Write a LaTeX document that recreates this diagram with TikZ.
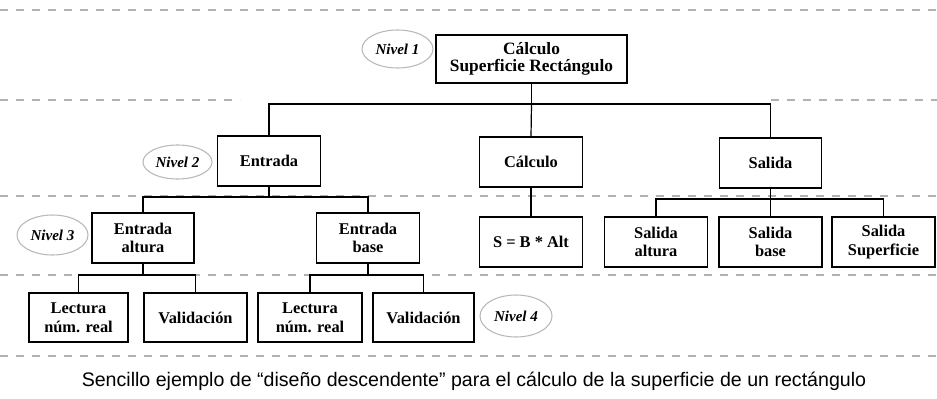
\documentclass[tikz,border=0pt]{standalone}
\usepackage{fontspec}
\setmainfont{Liberation Serif}
\newfontfamily\capfont{Liberation Sans}
\usetikzlibrary{shapes.geometric}
\begin{document}
\begin{tikzpicture}[x=0.75pt,y=-0.75pt,
  bx/.style 2 args={draw, line width=0.9pt, align=center, inner sep=0pt,
    minimum width={#1*0.75pt}, minimum height={#2*0.75pt},
    font=\bfseries\fontsize{12.3}{14}\selectfont},
  lvl/.style 2 args={draw=gray!55, ellipse, line width=0.8pt, inner sep=0pt,
    minimum width={#1*0.75pt}, minimum height={#2*0.75pt},
    font=\bfseries\itshape\fontsize{11.3}{12}\selectfont},
  sep/.style={draw=gray!60, line width=0.8pt, dash pattern=on 6pt off 6pt},
  conn/.style={draw=black, line width=0.9pt}]
\useasboundingbox (0,0) rectangle (937,399);
\fill[white] (0,0) rectangle (937,399);
% level separators
\draw[sep] (0,10) -- (937,10);
\draw[sep] (0,100) -- (240,100);
\draw[sep] (771,100) -- (937,100);
\draw[sep] (0,196) -- (937,196);
\draw[sep] (0,275) -- (937,275);
\draw[sep] (0,356) -- (937,356);
% level 1
\node[bx={191}{48}, font=\bfseries\fontsize{13}{13}\selectfont] (T) at (531.5,59) {Cálculo\\Superficie Rectángulo};
\node[lvl={71}{38}] (N1) at (397.5,49) {Nivel 1};
% level 2
\node[bx={103}{50}] (E) at (269,161) {Entrada};
\node[bx={103}{50}] (C) at (531,162) {Cálculo};
\node[bx={102}{50}] (Sa) at (770.5,163) {Salida};
\node[lvl={69}{34}] (N2) at (177.5,162) {Nivel 2};
% level 3
\node[bx={102}{50}] (EA) at (143,238) {Entrada\\altura};
\node[bx={103}{50}] (EB) at (368,238) {Entrada\\base};
\node[bx={103}{50}] (S) at (531,242) {S = B * Alt};
\node[bx={103}{50}] (SA) at (656,242) {Salida\\altura};
\node[bx={103}{50}] (SB) at (770.5,242) {Salida\\base};
\node[bx={103}{50}] (SS) at (883.5,242) {Salida\\Superficie};
\node[lvl={71}{40}] (N3) at (52.5,235) {Nivel 3};
% level 4
\node[bx={99}{49}] (L1) at (78.5,317.5) {Lectura\\núm. real};
\node[bx={103}{49}] (V1) at (195.5,317.5) {Validación};
\node[bx={104}{49}] (L2) at (310,317.5) {Lectura\\núm. real};
\node[bx={101}{49}] (V2) at (423.5,317.5) {Validación};
\node[lvl={72}{42}] (N4) at (516,316) {Nivel 4};
% connectors
\coordinate (b1) at (531,104);
\draw[conn] (T.south) -- (T.south |- b1);
\draw[conn] (T.south |- b1) -| (E.north);
\draw[conn] (T.south |- b1) -| (Sa.north);
\draw[conn] (T.south |- b1) -- (C.north);
\coordinate (b2) at (0,197);
\draw[conn] (E.south) -- (E.south |- b2);
\draw[conn] (E.south |- b2) -| (EA.north);
\draw[conn] (E.south |- b2) -| (EB.north);
\draw[conn] (C.south) -- (S.north);
\coordinate (b3) at (0,199);
\draw[conn] (Sa.south) -- (Sa.south |- b3);
\draw[conn] (Sa.south |- b3) -| (SA.north);
\draw[conn] (Sa.south |- b3) -| (SS.north);
\draw[conn] (Sa.south |- b3) -- (SB.north);
\coordinate (b4) at (0,275);
\draw[conn] (EA.south) -- (EA.south |- b4);
\draw[conn] (EA.south |- b4) -| (L1.north);
\draw[conn] (EA.south |- b4) -| (V1.north);
\draw[conn] (EB.south) -- (EB.south |- b4);
\draw[conn] (EB.south |- b4) -| (L2.north);
\draw[conn] (EB.south |- b4) -| (V2.north);
% caption
\node[font=\capfont\fontsize{14.7}{16}\selectfont, inner sep=0pt] (cap) at (474,381) {Sencillo ejemplo de “diseño descendente” para el cálculo de la superficie de un rectángulo};
\end{tikzpicture}
\end{document}
